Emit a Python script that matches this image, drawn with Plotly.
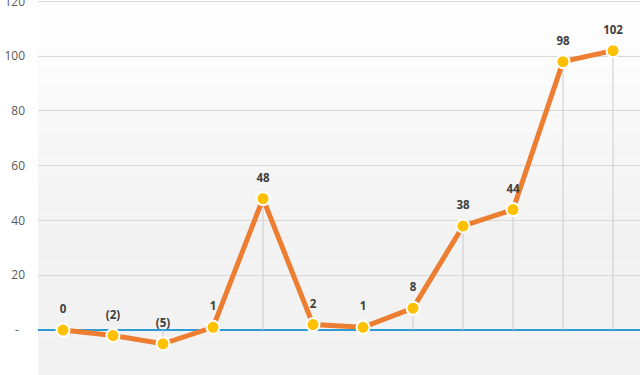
import plotly.graph_objects as go

categories = list(range(1, 13))
values = [0, -2, -5, 1, 48, 2, 1, 8, 38, 44, 98, 102]
tick_vals = [0, 20, 40, 60, 80, 100, 120]
tick_text = ["-\u00a0\u00a0", "20", "40", "60", "80", "100", "120"]

def fmt(v):
    return f"({abs(v)})" if v < 0 else str(v)

labels = [fmt(v) for v in values]

fig = go.Figure()

# drop lines from each point to zero baseline
dx, dy = [], []
for c, v in zip(categories, values):
    dx += [c, c, None]
    dy += [v, 0, None]
fig.add_trace(go.Scatter(x=dx, y=dy, mode="lines",
                         line=dict(color="#CCCCCC", width=1),
                         hoverinfo="skip", showlegend=False))

fig.add_trace(go.Scatter(
    x=categories, y=values, mode="lines+markers",
    line=dict(color="#ED7D31", width=5),
    marker=dict(size=13, color="#FFC000", line=dict(color="white", width=2)),
    cliponaxis=False, showlegend=False))

# data labels (invisible larger markers to set label offset)
fig.add_trace(go.Scatter(
    x=categories, y=values, mode="markers+text",
    text=labels, textposition="top center",
    textfont=dict(family="Open Sans", size=11.5, color="#404040", weight="bold"),
    marker=dict(size=21, color="rgba(0,0,0,0)"),
    hoverinfo="skip", cliponaxis=False, showlegend=False))

# background gradient (white to light grey)
shapes = []
n = 40
for i in range(n):
    y1 = 1 - i / n
    y0 = 1 - (i + 1) / n
    t = min(1.0, (i + 0.5) / (n * 0.62))
    g = round(255 - t * (255 - 242))
    shapes.append(dict(type="rect", xref="x domain", yref="y domain",
                       x0=0, x1=1, y0=y0, y1=y1, layer="below",
                       fillcolor=f"rgb({g},{g},{g})", line=dict(width=0)))

fig.update_layout(
    width=640, height=375,
    margin=dict(l=38, r=0, t=0, b=0),
    paper_bgcolor="white", plot_bgcolor="rgba(0,0,0,0)",
    shapes=shapes,
    xaxis=dict(range=[0.5, 12.54], showgrid=False, zeroline=False,
               showticklabels=False, showline=False, automargin=False),
    yaxis=dict(range=[-16.4, 120.5], tickvals=tick_vals, ticktext=tick_text,
               showgrid=True, gridcolor="#D9D9D9", gridwidth=1,
               zeroline=True, zerolinecolor="#2E9BD6", zerolinewidth=1.5,
               tickfont=dict(family="Open Sans", size=12, color="#595959"),
               ticklabelstandoff=12, ticklabeloverflow="allow",
               showline=False, automargin=False),
)

fig.write_html("out.html", config={"displayModeBar": False},
               post_script="document.body.style.margin='0';document.body.style.overflow='hidden';")
